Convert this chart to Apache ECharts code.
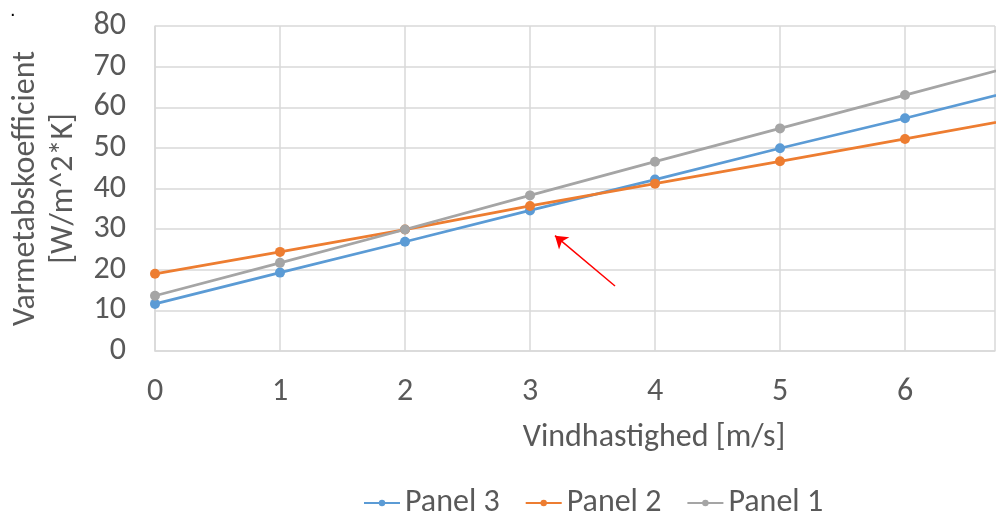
<!DOCTYPE html>
<html>
<head>
<meta charset="utf-8">
<script src="https://cdn.jsdelivr.net/npm/echarts@6/dist/echarts.min.js"></script>
<style>html,body{margin:0;padding:0;background:#fff;}#c{width:996px;height:516px;}</style>
</head>
<body>
<div id="c"></div>
<script>
const xValues = [0, 1, 2, 3, 4, 5, 6, 7];
const panel3 = [11.6, 19.3, 26.9, 34.6, 42.2, 49.9, 57.3, 65.0];
const panel2 = [19.0, 24.4, 29.9, 35.7, 41.2, 46.7, 52.2, 57.8];
const panel1 = [13.6, 21.7, 29.9, 38.3, 46.6, 54.8, 63.0, 71.2];
const seriesNames = ['Panel 3', 'Panel 2', 'Panel 1'];
const seriesColors = ['#5b9bd5', '#ed7d31', '#a5a5a5'];
const arrowFrom = [3.68, 16.0];
const arrowTo = [3.2, 28.4];

const chart = echarts.init(document.getElementById('c'));
const font = 'Carlito, Calibri, Lato, sans-serif';
function mk(name, vals, color, extra) {
  return Object.assign({
    name: name, type: 'line', data: xValues.map((x, i) => [x, vals[i]]),
    symbol: 'circle', symbolSize: 10, clip: true,
    lineStyle: {color: color, width: 2.75}, itemStyle: {color: color}
  }, extra || {});
}
chart.setOption({
  animation: false,
  textStyle: {fontFamily: font},
  graphic: [{type: 'text', left: 10, top: 0, style: {text: '.', font: '20px sans-serif', fill: '#000'}}],
  grid: {left: 155, right: 1, top: 26, bottom: 165, outerBoundsMode: 'none', containLabel: false},
  legend: {
    top: 482, left: 358, itemGap: 25, itemWidth: 36, itemHeight: 8,
    data: seriesNames,
    textStyle: {fontSize: 32, color: '#595959', fontFamily: font}
  },
  xAxis: {
    type: 'value', min: 0, max: 6.72, interval: 1,
    name: 'Vindhastighed [m/s]', nameLocation: 'middle', nameGap: 71,
    nameTextStyle: {fontSize: 32, color: '#595959', padding: [0, 0, 0, 158]},
    axisLine: {lineStyle: {color: '#d9d9d9', width: 1.5}},
    axisTick: {show: false},
    axisLabel: {fontSize: 32, color: '#595959', margin: 25, showMaxLabel: false},
    splitLine: {lineStyle: {color: '#d9d9d9', width: 1.5}}
  },
  yAxis: {
    type: 'value', min: 0, max: 80, interval: 10,
    name: 'Varmetabskoefficient\n[W/m^2*K]', nameLocation: 'middle', nameGap: 66,
    nameTextStyle: {fontSize: 32, color: '#595959', lineHeight: 38},
    axisLine: {show: true, lineStyle: {color: '#d9d9d9', width: 1.5}},
    axisTick: {show: false},
    axisLabel: {fontSize: 32, color: '#595959', margin: 29},
    splitLine: {lineStyle: {color: '#d9d9d9', width: 1.5}}
  },
  series: [
    mk(seriesNames[0], panel3, seriesColors[0], {
      markLine: {
        silent: true, symbol: ['none', 'arrow'], symbolSize: 12,
        label: {show: false},
        lineStyle: {color: '#ff0000', width: 1.5, type: 'solid'},
        data: [[{coord: arrowFrom}, {coord: arrowTo}]]
      }
    }),
    mk(seriesNames[1], panel2, seriesColors[1]),
    mk(seriesNames[2], panel1, seriesColors[2])
  ]
});
</script>
</body>
</html>
